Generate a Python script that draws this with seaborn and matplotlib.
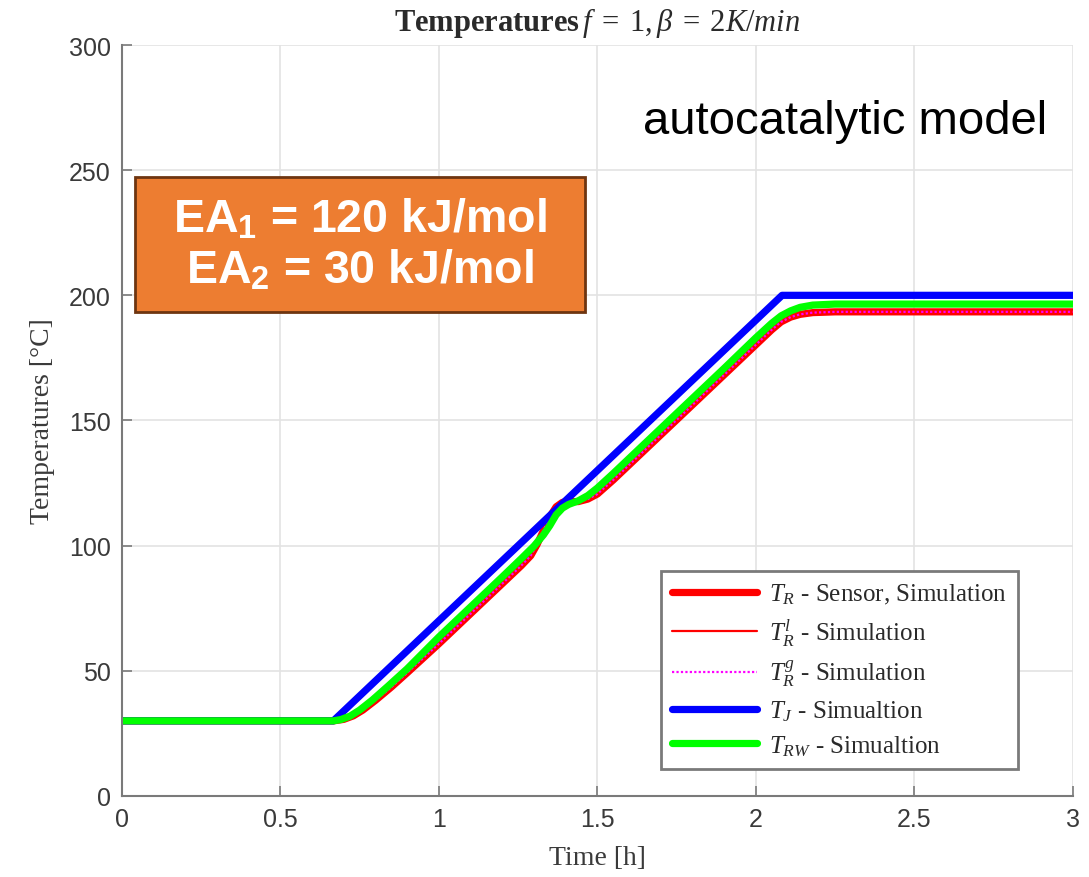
import matplotlib
matplotlib.use("Agg")
import matplotlib.pyplot as plt
import pandas as pd
import seaborn as sns
from matplotlib.patches import Rectangle


# values
time_jacket = [0.0, 0.667, 2.083, 3.0]
temp_jacket = [30.0, 30.0, 200.0, 200.0]

time_wall = [0.0, 0.667, 0.69, 0.72, 0.75, 0.79, 0.84, 0.90, 1.0, 1.1, 1.2,
             1.26, 1.30, 1.33, 1.35, 1.37, 1.39, 1.41, 1.44, 1.47, 1.50,
             1.55, 1.6, 1.7, 1.8, 1.9, 2.0, 2.05, 2.08, 2.11, 2.14, 2.18,
             2.25, 3.0]
temp_wall = [30.0, 30.0, 30.5, 31.9, 34.3, 38.3, 43.9, 50.8, 63.5, 75.5, 87.5,
             94.8, 99.8, 104.3, 108.0, 112.3, 115.0, 116.5, 117.9, 120.0, 123.0,
             128.8, 134.8, 146.8, 158.8, 170.8, 183.0, 188.8, 191.8, 193.8,
             195.2, 196.1, 196.5, 196.5]

time_reactor = [0.0, 0.667, 0.70, 0.73, 0.76, 0.80, 0.85, 0.90, 0.95, 1.0,
                1.1, 1.2, 1.26, 1.29, 1.31, 1.33, 1.35, 1.37, 1.39, 1.41,
                1.44, 1.47, 1.50, 1.55, 1.6, 1.7, 1.8, 1.9, 2.0, 2.05, 2.08,
                2.11, 2.14, 2.18, 2.25, 3.0]
temp_reactor = [30.0, 30.0, 30.6, 32.0, 34.3, 38.2, 43.5, 49.2, 55.0, 60.8,
                72.8, 84.8, 92.0, 96.0, 100.5, 106.0, 111.5, 115.5, 117.3,
                117.6, 117.6, 118.6, 120.6, 126.2, 132.2, 144.2, 156.2, 168.2,
                180.2, 186.2, 189.4, 191.3, 192.4, 193.1, 193.4, 193.4]

legend_labels = [
    r"$T_R$ - Sensor, Simulation",
    r"$T_R^l$ - Simulation",
    r"$T_R^g$ - Simulation",
    r"$T_J$ - Simualtion",
    r"$T_{RW}$ - Simualtion",
]
x_ticks = [0, 0.5, 1, 1.5, 2, 2.5, 3]
x_tick_labels = ["0", "0.5", "1", "1.5", "2", "2.5", "3"]
y_ticks = [0, 50, 100, 150, 200, 250, 300]

sns.set_theme(style="whitegrid")
plt.rcParams["font.family"] = ["Liberation Sans", "DejaVu Sans"]
plt.rcParams["mathtext.fontset"] = "custom"
plt.rcParams["mathtext.it"] = "Liberation Serif:italic"
plt.rcParams["mathtext.rm"] = "Liberation Serif"
plt.rcParams["mathtext.sf"] = "Liberation Sans:bold"

reactor_df = pd.DataFrame({"t": time_reactor, "T": temp_reactor})
wall_df = pd.DataFrame({"t": time_wall, "T": temp_wall})
jacket_df = pd.DataFrame({"t": time_jacket, "T": temp_jacket})

fig = plt.figure(figsize=(10.89, 8.78), dpi=100)
ax = fig.add_axes([0.112, 0.0923, 0.873, 0.8553])

sns.lineplot(data=reactor_df, x="t", y="T", sort=False, color="#ff0000",
             linewidth=5.2, label=legend_labels[0], ax=ax)
sns.lineplot(data=reactor_df, x="t", y="T", sort=False, color="#ff0000",
             linewidth=1.6, label=legend_labels[1], ax=ax)
sns.lineplot(data=reactor_df, x="t", y="T", sort=False, color="#ff00ff",
             linewidth=1.6, linestyle=(0, (1, 1)), label=legend_labels[2], ax=ax)
sns.lineplot(data=jacket_df, x="t", y="T", sort=False, color="#0000ff",
             linewidth=5.2, label=legend_labels[3], ax=ax)
sns.lineplot(data=wall_df, x="t", y="T", sort=False, color="#00ff00",
             linewidth=5.2, label=legend_labels[4], ax=ax)

ax.set_xlim(0, 3)
ax.set_ylim(0, 300)
ax.set_xticks(x_ticks)
ax.set_xticklabels(x_tick_labels)
ax.set_yticks(y_ticks)
ax.grid(True, color="#e3e3e3", linewidth=1.2)
ax.set_facecolor("white")
for side in ["top", "right"]:
    ax.spines[side].set_visible(False)
for side in ["left", "bottom"]:
    ax.spines[side].set_color("#7a7a7a")
    ax.spines[side].set_linewidth(1.5)
ax.tick_params(direction="in", length=7, width=1.2, color="#7a7a7a",
               labelsize=18, labelcolor="#3a3a3a", pad=8, left=True, bottom=True)

ax.set_xlabel("Time [h]", fontsize=20, family="Liberation Serif",
              color="#3a3a3a", labelpad=10)
ax.set_ylabel("Temperatures [°C]", fontsize=20, family="Liberation Serif",
              color="#3a3a3a", labelpad=10)
ax.set_title(r"Temperatures$\,f\;=\;1,\beta\;=\;2K/min$", fontsize=22,
             family="Liberation Serif", fontweight="bold", color="#2a2a2a", pad=11)

ax.text(0.548, 0.899, "autocatalytic model", transform=ax.transAxes,
        fontsize=34, ha="left", va="center", color="black")

ax.add_patch(Rectangle((0.0137, 0.644), 0.473, 0.180, transform=ax.transAxes,
                       facecolor="#ed7d31", edgecolor="#6e3510", linewidth=2,
                       zorder=5))
ax.text(0.250, 0.768, r"EA$_\mathsf{1}$ = 120 kJ/mol", transform=ax.transAxes,
        fontsize=33.5, fontweight="bold", color="white", ha="center",
        va="center", zorder=6)
ax.text(0.250, 0.700, r"EA$_\mathsf{2}$ = 30 kJ/mol", transform=ax.transAxes,
        fontsize=33.5, fontweight="bold", color="white", ha="center",
        va="center", zorder=6)

leg = ax.legend(loc="lower right", bbox_to_anchor=(0.943, 0.036),
                borderaxespad=0,
                prop={"family": "Liberation Serif", "size": 18},
                handlelength=3.4, handletextpad=0.5, labelspacing=0.4,
                borderpad=0.45, frameon=True, fancybox=False, framealpha=1)
leg.get_frame().set_edgecolor("#7a7a7a")
leg.get_frame().set_linewidth(2)
for text in leg.get_texts():
    text.set_color("#2a2a2a")

fig.savefig("out.png", dpi=100)
